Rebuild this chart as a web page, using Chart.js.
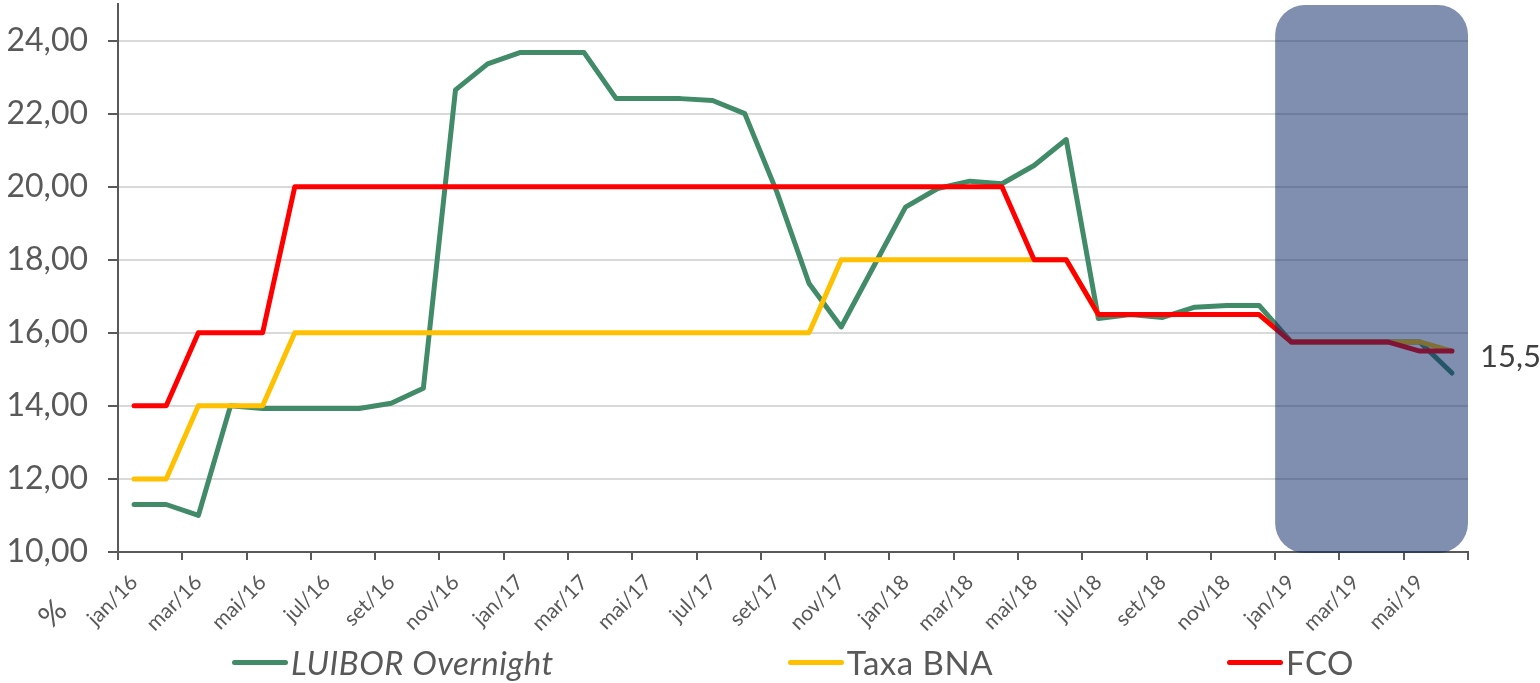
<!DOCTYPE html>
<html><head><meta charset="utf-8">
<script src="https://cdn.jsdelivr.net/npm/chart.js@4.4.1/dist/chart.umd.min.js"></script>
<style>
html,body{margin:0;padding:0;background:#fff;}
#wrap{position:relative;width:1540px;height:683px;overflow:hidden;}
#legend{position:absolute;left:118px;width:1350px;top:641px;height:42px;display:flex;justify-content:center;align-items:center;gap:234px;font-family:Lato,sans-serif;font-size:33px;letter-spacing:0.5px;color:#595959;}
.item{display:flex;align-items:center;white-space:nowrap;}
.sw{width:56px;height:5px;border-radius:3px;margin-right:3px;}
</style></head>
<body><div id="wrap"><canvas id="c" width="1540" height="683"></canvas><div id="legend"></div></div>
<script>
const categories = ['jan/16','fev/16','mar/16','abr/16','mai/16','jun/16','jul/16','ago/16','set/16','out/16','nov/16','dez/16',
  'jan/17','fev/17','mar/17','abr/17','mai/17','jun/17','jul/17','ago/17','set/17','out/17','nov/17','dez/17',
  'jan/18','fev/18','mar/18','abr/18','mai/18','jun/18','jul/18','ago/18','set/18','out/18','nov/18','dez/18',
  'jan/19','fev/19','mar/19','abr/19','mai/19','jun/19'];
const tickLabelEvery = 2;
const luibor = [11.3,11.3,11.0,14.0,13.93,13.93,13.93,13.93,14.07,14.48,22.65,23.36,
  23.67,23.67,23.67,22.41,22.41,22.41,22.36,22.0,19.85,17.35,16.16,17.8,
  19.44,19.95,20.15,20.08,20.58,21.29,16.39,16.5,16.42,16.7,16.75,16.75,
  15.75,15.75,15.75,15.75,15.75,14.9];
const taxaBNA = [12,12,14,14,14,16,16,16,16,16,16,16,
  16,16,16,16,16,16,16,16,16,16,18,18,
  18,18,18,18,18,18,16.5,16.5,16.5,16.5,16.5,16.5,
  15.75,15.75,15.75,15.75,15.75,15.5];
const fco = [14,14,16,16,16,20,20,20,20,20,20,20,
  20,20,20,20,20,20,20,20,20,20,20,20,
  20,20,20,20,18,18,16.5,16.5,16.5,16.5,16.5,16.5,
  15.75,15.75,15.75,15.75,15.5,15.5];
const yTicks = [10,12,14,16,18,20,22,24];
const seriesNames = ['LUIBOR Overnight','Taxa BNA','FCO'];
const seriesColors = ['#418B68','#FFC000','#FF0000'];
const highlightFrom = 'jan/19';
const yUnit = '%';

const FONT = 'Lato';
const gray = '#595959';

const shadePlugin = {
  id:'shade',
  afterDatasetsDraw(chart){
    const {ctx, chartArea, scales:{x}} = chart;
    const i = categories.indexOf(highlightFrom);
    const left = (x.getPixelForValue(i-1)+x.getPixelForValue(i))/2;
    const right = chartArea.right;
    const top = chartArea.top + 1, bottom = chartArea.bottom + 1;
    ctx.save();
    ctx.fillStyle = 'rgba(11,38,103,0.52)';
    ctx.beginPath();
    ctx.roundRect(left, top, right-left, bottom-top, 30);
    ctx.fill();
    ctx.restore();
  }
};
const textPlugin = {
  id:'texts',
  afterDraw(chart){
    const {ctx, chartArea, scales:{y}} = chart;
    const last = fco[fco.length-1];
    ctx.save();
    ctx.font = '31px ' + FONT;
    ctx.fillStyle = '#404040';
    ctx.textBaseline = 'middle';
    ctx.textAlign = 'left';
    ctx.fillText(String(last).replace('.',','), chartArea.right+12, y.getPixelForValue(last)+6);
    ctx.translate(53, 614);
    ctx.rotate(-Math.PI/4);
    ctx.font = '31px ' + FONT;
    ctx.fillStyle = gray;
    ctx.textAlign = 'center';
    ctx.fillText(yUnit, 0, 0);
    ctx.restore();
  }
};

const datasets = [luibor, taxaBNA, fco].map((d,k)=>({
  label: seriesNames[k], data: d, borderColor: seriesColors[k], backgroundColor: seriesColors[k], order: 2-k
}));

new Chart(document.getElementById('c'), {
  type:'line',
  data:{labels:categories, datasets},
  options:{
    responsive:false, animation:false,
    layout:{padding:{top:4,right:72,bottom:0,left:0}},
    elements:{line:{borderWidth:5,tension:0,borderJoinStyle:'round',borderCapStyle:'round'},point:{radius:0,hoverRadius:0}},
    plugins:{legend:{display:false},tooltip:{enabled:false}},
    scales:{
      x:{
        offset:true,
        grid:{offset:true,drawOnChartArea:false,tickLength:8,lineWidth:2,
          color: c => (c.index===undefined || c.index%2===0) ? gray : 'rgba(0,0,0,0)',
          tickColor: c => (c.index===undefined || c.index%2===0) ? gray : 'rgba(0,0,0,0)'},
        border:{color:gray,width:2},
        ticks:{autoSkip:false,minRotation:45,maxRotation:45,padding:10,color:gray,font:{family:FONT,size:21},
          callback:(v,i)=> i%tickLabelEvery===0 ? categories[i] : ''},
        afterFit: s=>{ s.height = 131; s.paddingLeft = 0; s.paddingRight = 0; }
      },
      y:{
        min:10,max:25,
        ticks:{stepSize:2,padding:20,color:gray,font:{family:FONT,size:32},
          callback:v=>Number(v).toFixed(2).replace('.',',')},
        afterBuildTicks: s=>{ s.ticks = yTicks.map(v=>({value:v})); },
        grid:{color:'#d9d9d9',lineWidth:2,tickLength:10,tickColor:gray},
        border:{color:gray,width:2},
        afterFit: s=>{ s.width = 118; s.paddingTop = 0; s.paddingBottom = 0; }
      }
    }
  },
  plugins:[shadePlugin,textPlugin]
});

const lg = document.getElementById('legend');
seriesNames.forEach((n,k)=>{
  const it = document.createElement('div'); it.className='item';
  const sw = document.createElement('span'); sw.className='sw'; sw.style.background=seriesColors[k];
  const tx = document.createElement('span'); tx.textContent=n;
  if(k===0) tx.style.fontStyle='italic';
  it.appendChild(sw); it.appendChild(tx); lg.appendChild(it);
});
</script>
</body></html>
